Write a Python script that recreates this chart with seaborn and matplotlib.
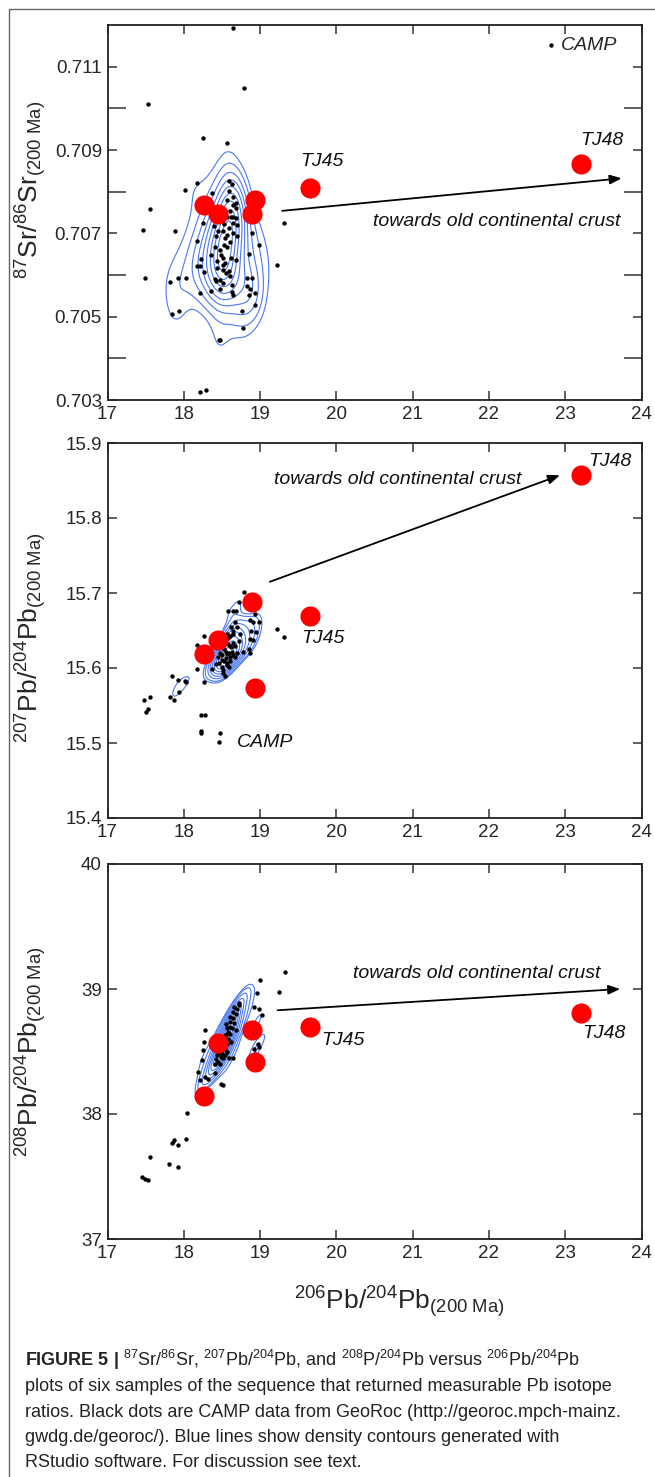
import matplotlib
matplotlib.use("Agg")
from matplotlib import pyplot as plt
from matplotlib.lines import Line2D
from matplotlib.ticker import FixedLocator, FormatStrFormatter
import seaborn as sns

# samples of the sequence (206Pb/204Pb and the three ratios)
sample_pb6 = [18.27, 18.45, 18.89, 18.93, 19.65, 23.21]
sample_sr = [0.70767, 0.70747, 0.70746, 0.70781, 0.70809, 0.70867]
sample_pb7 = [15.619, 15.638, 15.688, 15.574, 15.670, 15.857]
sample_pb8 = [38.145, 38.565, 38.675, 38.415, 38.700, 38.810]

# CAMP (GeoRoc) points, panel 1
camp_sr_x = [18.64, 18.79, 17.53, 18.25, 18.57, 18.17, 18.02, 18.37, 17.56, 17.47,
             17.88, 19.31, 19.22, 17.49, 17.82, 17.92, 18.03, 17.85, 17.94, 18.76,
             18.77, 18.46, 18.48, 18.21, 18.29,
             18.90, 18.98, 18.85, 18.83, 18.90, 18.83, 18.87, 18.94, 18.86, 18.93,
             18.17, 18.17, 18.21, 18.23, 18.26, 18.21, 18.25,
             18.59, 18.59, 18.63, 18.65, 18.65, 18.68, 18.69, 18.61, 18.57, 18.62,
             18.65, 18.69, 18.70, 18.65, 18.59, 18.53, 18.51, 18.39, 18.42, 18.57,
             18.54, 18.65, 18.70, 18.53, 18.56, 18.41, 18.49, 18.51, 18.36, 18.62,
             18.68, 18.54, 18.51, 18.52, 18.44, 18.43, 18.55, 18.59, 18.41, 18.42,
             18.47, 18.51, 18.61, 18.63, 18.36, 18.47, 18.63, 18.65, 18.57, 18.48,
             18.60, 18.45]
camp_sr = [0.71192, 0.71050, 0.71010, 0.70930, 0.70918, 0.70821, 0.70803, 0.70798, 0.70759, 0.70709,
           0.70705, 0.70726, 0.70624, 0.70594, 0.70583, 0.70594, 0.70594, 0.70506, 0.70514, 0.70514,
           0.70472, 0.70443, 0.70445, 0.70319, 0.70324,
           0.70700, 0.70671, 0.70650, 0.70594, 0.70594, 0.70574, 0.70566, 0.70558, 0.70552, 0.70527,
           0.70682, 0.70622, 0.70622, 0.70639, 0.70608, 0.70558, 0.70724,
           0.70826, 0.70802, 0.70818, 0.70788, 0.70767, 0.70761, 0.70772, 0.70754, 0.70740, 0.70740,
           0.70740, 0.70738, 0.70720, 0.70724, 0.70714, 0.70723, 0.70705, 0.70718, 0.70694, 0.70697,
           0.70689, 0.70700, 0.70694, 0.70673, 0.70667, 0.70668, 0.70649, 0.70641, 0.70648, 0.70641,
           0.70637, 0.70630, 0.70623, 0.70613, 0.70634, 0.70616, 0.70605, 0.70609, 0.70591, 0.70586,
           0.70587, 0.70581, 0.70597, 0.70577, 0.70561, 0.70567, 0.70559, 0.70553, 0.70780, 0.70660,
           0.70680, 0.70705]

# panel 2
camp_pb7_x = [18.79, 18.72, 18.58, 18.64, 18.68, 18.87, 18.93, 18.91, 18.99, 18.88,
              18.95, 18.91, 18.87, 18.85, 18.78, 18.87, 18.64, 18.56, 19.22, 19.31,
              18.17, 18.27, 18.17, 18.26, 18.52, 17.48, 17.56, 17.50, 17.53, 17.85,
              17.93, 18.01, 18.03, 17.94, 17.82, 17.87, 18.23, 18.28, 18.22, 18.23,
              18.47, 18.46,
              18.67, 18.70, 18.65, 18.74, 18.72, 18.61, 18.64, 18.60, 18.67, 18.70,
              18.67, 18.59, 18.55, 18.50, 18.57, 18.61, 18.56, 18.50, 18.46, 18.52,
              18.59, 18.37, 18.42, 18.54, 18.62, 18.58, 18.53, 18.48, 18.63, 18.45,
              18.58, 18.62, 18.55, 18.60, 18.57, 18.53, 18.64, 18.50]
camp_pb7 = [15.701, 15.688, 15.676, 15.676, 15.676, 15.664, 15.672, 15.661, 15.661, 15.650,
            15.648, 15.637, 15.639, 15.625, 15.621, 15.620, 15.617, 15.619, 15.652, 15.642,
            15.631, 15.643, 15.599, 15.581, 15.594, 15.558, 15.562, 15.541, 15.546, 15.589,
            15.584, 15.583, 15.581, 15.568, 15.562, 15.557, 15.538, 15.537, 15.516, 15.513,
            15.513, 15.501,
            15.661, 15.655, 15.650, 15.646, 15.636, 15.643, 15.634, 15.630, 15.629, 15.620,
            15.615, 15.620, 15.613, 15.611, 15.607, 15.609, 15.604, 15.602, 15.607, 15.598,
            15.601, 15.599, 15.605, 15.590, 15.655, 15.640, 15.625, 15.620, 15.622, 15.615,
            15.632, 15.628, 15.622, 15.615, 15.645, 15.610, 15.645, 15.617]

# panel 3
camp_pb8_x = [19.33, 19.00, 19.25, 18.96, 18.73, 18.66, 18.70, 18.72, 18.65, 18.68,
              18.64, 18.61, 18.66, 18.56, 18.63, 18.68, 18.61, 18.57, 18.54, 18.58,
              18.51, 18.57, 18.54, 18.49, 18.46, 18.44, 18.49, 18.54, 18.59, 18.42,
              18.45, 18.47, 18.41, 18.65, 18.89, 18.92, 18.97, 18.92, 18.99, 18.94,
              18.92, 18.99, 19.02, 18.28, 18.26, 18.25, 18.24, 18.19, 18.21, 18.28,
              18.32, 18.41, 18.49, 18.51, 18.04, 17.84, 17.87, 17.92, 18.03, 17.56,
              17.81, 17.93, 17.45, 17.49, 17.53, 18.60, 18.55, 18.50, 18.47, 18.62,
              18.52, 18.55, 18.58, 18.52, 18.60, 18.50, 18.56]
camp_pb8 = [39.134, 39.075, 38.973, 38.968, 38.892, 38.86, 38.84, 38.87, 38.82, 38.80,
            38.77, 38.74, 38.73, 38.69, 38.69, 38.67, 38.64, 38.64, 38.63, 38.60,
            38.58, 38.56, 38.52, 38.50, 38.49, 38.47, 38.46, 38.47, 38.45, 38.44,
            38.42, 38.40, 38.40, 38.45, 38.67, 38.63, 38.56, 38.52, 38.54, 38.48,
            38.86, 38.84, 38.79, 38.67, 38.58, 38.51, 38.43, 38.34, 38.27, 38.30,
            38.28, 38.33, 38.24, 38.23, 38.01, 37.77, 37.79, 37.75, 37.80, 37.66,
            37.60, 37.58, 37.50, 37.48, 37.47, 38.78, 38.72, 38.62, 38.55, 38.58,
            38.45, 38.60, 38.66, 38.55, 38.70, 38.48, 38.50]

x_ticks = [17, 18, 19, 20, 21, 22, 23, 24]

sns.set_style("ticks")
plt.rcParams["font.family"] = ["Liberation Sans", "DejaVu Sans"]
plt.rcParams["mathtext.fontset"] = "custom"
plt.rcParams["mathtext.rm"] = "Liberation Sans"
plt.rcParams["mathtext.it"] = "Liberation Sans:italic"
plt.rcParams["mathtext.bf"] = "Liberation Sans:bold"

W, H = 655, 1477
fig = plt.figure(figsize=(W / 100, H / 100), dpi=100)

left = 107.5 / W
width = 534 / W
tops = [25, 443, 864]
axes = [fig.add_axes([left, 1 - (t + 375) / H, width, 375 / H]) for t in tops]

blue = "#4a78ee"
it = dict(fontsize=14, style="italic", color="#111")
arrow = dict(arrowstyle="-|>,head_length=0.7,head_width=0.28",
             lw=1.3, color="black", shrinkA=0, shrinkB=0)


def base(ax, cx, cy, sy, ylim, thresh=0.22, bw=0.85):
    sns.kdeplot(x=cx, y=cy, ax=ax, levels=10, thresh=thresh, bw_adjust=bw,
                color=blue, linewidths=0.8, zorder=1)
    sns.scatterplot(x=cx, y=cy, ax=ax, color="black", s=10, linewidth=0,
                    zorder=2, label="CAMP")
    sns.scatterplot(x=sample_pb6, y=sy, ax=ax, color="#ff0000", s=210,
                    linewidth=0, zorder=3, legend=False)
    ax.set_xlim(17, 24)
    ax.set_ylim(*ylim)
    ax.set_xticks(x_ticks)
    ax.set_xlabel("")
    for sp in ax.spines.values():
        sp.set_linewidth(1.3)
        sp.set_color("#222")
    ax.tick_params(which="both", direction="in", top=True, right=True,
                   labelsize=13.5, width=1.1, length=6.5, pad=4, color="#333")
    if ax.get_legend() is not None:
        ax.get_legend().remove()


ax1, ax2, ax3 = axes

# panel 1 : 87Sr/86Sr
base(ax1, camp_sr_x, camp_sr, sample_sr, (0.703, 0.712))
ax1.yaxis.set_major_locator(FixedLocator([0.703, 0.705, 0.707, 0.709, 0.711]))
ax1.yaxis.set_minor_locator(FixedLocator([0.704, 0.706, 0.708, 0.710]))
ax1.yaxis.set_major_formatter(FormatStrFormatter("%.3f"))
ax1.tick_params(axis="y", which="minor", length=13, width=1.1)
ax1.xaxis.set_minor_locator(FixedLocator([]))
ax1.set_ylabel(r"$^{87}$Sr/$^{86}$Sr$_{(200\ \mathrm{Ma})}$", fontsize=19)
ax1.yaxis.set_label_coords(-0.11, 0.56)
h, l = ax1.get_legend_handles_labels()
ax1.legend(h[:1], l[:1], loc="upper right", bbox_to_anchor=(0.955, 0.97),
           frameon=False, borderpad=0, borderaxespad=0, handletextpad=0.1,
           handlelength=0.8, prop=dict(size=14, style="italic"))
ax1.annotate("", xy=(23.74, 0.70832), xytext=(19.29, 0.70754), arrowprops=arrow)
ax1.text(23.72, 0.70728, "towards old continental crust", ha="right", va="center", **it)
ax1.text(19.81, 0.70872, "TJ45", ha="center", va="center", **it)
ax1.text(23.48, 0.70924, "TJ48", ha="center", va="center", **it)

# panel 2 : 207Pb/204Pb
base(ax2, camp_pb7_x, camp_pb7, sample_pb7, (15.4, 15.9), thresh=0.4, bw=0.7)
ax2.set_yticks([15.4, 15.5, 15.6, 15.7, 15.8, 15.9])
ax2.yaxis.set_major_formatter(FormatStrFormatter("%.1f"))
ax2.set_ylabel(r"$^{207}$Pb/$^{204}$Pb$_{(200\ \mathrm{Ma})}$", fontsize=19)
ax2.yaxis.set_label_coords(-0.11, 0.48)
ax2.annotate("", xy=(22.93, 15.857), xytext=(19.13, 15.715), arrowprops=arrow)
ax2.text(20.81, 15.852, "towards old continental crust", ha="center", va="center", **it)
ax2.text(23.58, 15.876, "TJ48", ha="center", va="center", **it)
ax2.text(19.83, 15.639, "TJ45", ha="center", va="center", **it)
ax2.text(19.06, 15.501, "CAMP", ha="center", va="center", **it)

# panel 3 : 208Pb/204Pb
base(ax3, camp_pb8_x, camp_pb8, sample_pb8, (37, 40), thresh=0.4, bw=0.7)
ax3.set_yticks([37, 38, 39, 40])
ax3.set_ylabel(r"$^{208}$Pb/$^{204}$Pb$_{(200\ \mathrm{Ma})}$", fontsize=19)
ax3.yaxis.set_label_coords(-0.11, 0.50)
ax3.annotate("", xy=(23.72, 39.00), xytext=(19.23, 38.83), arrowprops=arrow)
ax3.text(21.84, 39.12, "towards old continental crust", ha="center", va="center", **it)
ax3.text(20.09, 38.59, "TJ45", ha="center", va="center", **it)
ax3.text(23.51, 38.64, "TJ48", ha="center", va="center", **it)
ax3.set_xlabel(r"$^{206}$Pb/$^{204}$Pb$_{(200\ \mathrm{Ma})}$", fontsize=19)
ax3.xaxis.set_label_coords(0.546, -0.12)

# outer frame (left and top edges only)
fig.add_artist(Line2D([9 / W, 9 / W], [0, 1 - 8.5 / H], transform=fig.transFigure,
                      color="#666", lw=1.0))
fig.add_artist(Line2D([9 / W, 1], [1 - 8.5 / H, 1 - 8.5 / H], transform=fig.transFigure,
                      color="#666", lw=1.0))

# caption
caption = [
    r"$\mathbf{FIGURE\ 5\ |}$ $^{87}$Sr/$^{86}$Sr, $^{207}$Pb/$^{204}$Pb, and "
    r"$^{208}$P/$^{204}$Pb versus $^{206}$Pb/$^{204}$Pb",
    "plots of six samples of the sequence that returned measurable Pb isotope",
    "ratios. Black dots are CAMP data from GeoRoc (http://georoc.mpch-mainz.",
    "gwdg.de/georoc/). Blue lines show density contours generated with",
    "RStudio software. For discussion see text.",
]
for i, line in enumerate(caption):
    fig.text(25 / W, 1 - (1366 + 25.3 * i) / H, line, fontsize=13, color="#222",
             ha="left", va="baseline")

fig.savefig("out.png", dpi=100)
